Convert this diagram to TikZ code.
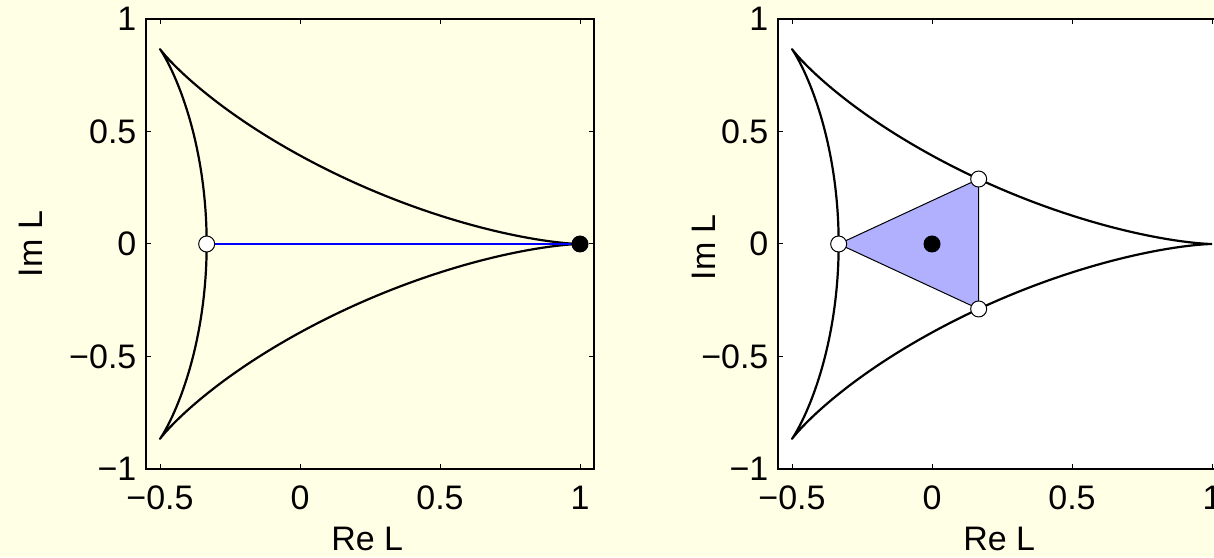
\documentclass[tikz,border=0pt]{standalone}
\usepackage{fontspec}
\setmainfont{Liberation Sans}
\usetikzlibrary{positioning}
\definecolor{figbg}{RGB}{255,255,230}
\definecolor{simplex}{RGB}{176,176,255}
\begin{document}
\begin{tikzpicture}[
x=0.5pt,y=0.5pt,
font=\fontsize{17}{20}\selectfont,
frame/.style={line width=0.7pt},
tickmark/.style={line width=0.5pt},
deltoid/.style={line width=1.1pt,line join=round},
opendot/.style={circle,draw,fill=white,line width=0.5pt,inner sep=0pt,minimum size=8pt},
fulldot/.style={circle,fill=black,inner sep=0pt,minimum size=8.5pt},
ticklab/.style={inner sep=0pt}
]
\useasboundingbox (0,0) rectangle (1214,557);
\fill[figbg] (0,0) rectangle (1214,557);
\clip (0,0) rectangle (1214,557);

% left panel: path from the fixed point to L=1
\begin{scope}[shift={(150pt,156.5pt)},x=140pt,y=112.5pt]
\draw[frame] (-0.55,-1) rectangle (1.05,1);
\foreach \t/\lab in {-0.5/−0.5,0/0,0.5/0.5,1/1} {
  \draw[tickmark] (\t,-1) -- ++(0,0.022);
  \draw[tickmark] (\t,1) -- ++(0,-0.022);
  \node[ticklab,anchor=base] at (\t,-1.182) {\lab};
}
\foreach \t/\lab in {-1/−1,-0.5/−0.5,0/0,0.5/0.5,1/1} {
  \draw[tickmark] (-0.55,\t) -- ++(0.018,0);
  \draw[tickmark] (1.05,\t) -- ++(-0.018,0);
  \node[ticklab,anchor=east] at (-0.583,\t) {\lab};
}
\node[ticklab,anchor=base] (xlabA) at (0.24,-1.364) {Re L};
\node[ticklab,anchor=base,rotate=90] (ylabA) at (-0.921,0) {Im L};
\draw[deltoid] plot[variable=\p,domain=0:360,samples=361]
  ({(2*cos(\p)+cos(2*\p))/3},{(2*sin(\p)-sin(2*\p))/3});
\node[opendot] (fixA) at (-1/3,0) {};
\node[fulldot] (unit) at (1,0) {};
\draw[blue,line width=0.6pt] (fixA) -- (unit);
\end{scope}

% right panel: simplex of the centre
\begin{scope}[shift={(466pt,156.5pt)},x=140pt,y=112.5pt]
\filldraw[frame,fill=white] (-0.55,-1) rectangle (1.05,1);
\foreach \t/\lab in {-0.5/−0.5,0/0,0.5/0.5,1/1} {
  \draw[tickmark] (\t,-1) -- ++(0,0.022);
  \draw[tickmark] (\t,1) -- ++(0,-0.022);
  \node[ticklab,anchor=base] at (\t,-1.182) {\lab};
}
\foreach \t/\lab in {-1/−1,-0.5/−0.5,0/0,0.5/0.5,1/1} {
  \draw[tickmark] (-0.55,\t) -- ++(0.018,0);
  \draw[tickmark] (1.05,\t) -- ++(-0.018,0);
  \node[ticklab,anchor=east] at (-0.583,\t) {\lab};
}
\node[ticklab,anchor=base] (xlabB) at (0.24,-1.364) {Re L};
\node[ticklab,anchor=base,rotate=90] (ylabB) at (-0.775,-0.015) {Im L};
\draw[deltoid] plot[variable=\p,domain=0:360,samples=361]
  ({(2*cos(\p)+cos(2*\p))/3},{(2*sin(\p)-sin(2*\p))/3});
\coordinate (va) at (-1/3,0);
\coordinate (vb) at (1/6,0.2887);
\coordinate (vc) at (1/6,-0.2887);
\filldraw[fill=simplex,line width=0.5pt] (va) -- (vb) -- (vc) -- cycle;
\node[opendot] (dotA) at (va) {};
\node[opendot] (dotB) at (vb) {};
\node[opendot] (dotC) at (vc) {};
\node[fulldot] (origin) at (0,0) {};
\end{scope}
\end{tikzpicture}
\end{document}
